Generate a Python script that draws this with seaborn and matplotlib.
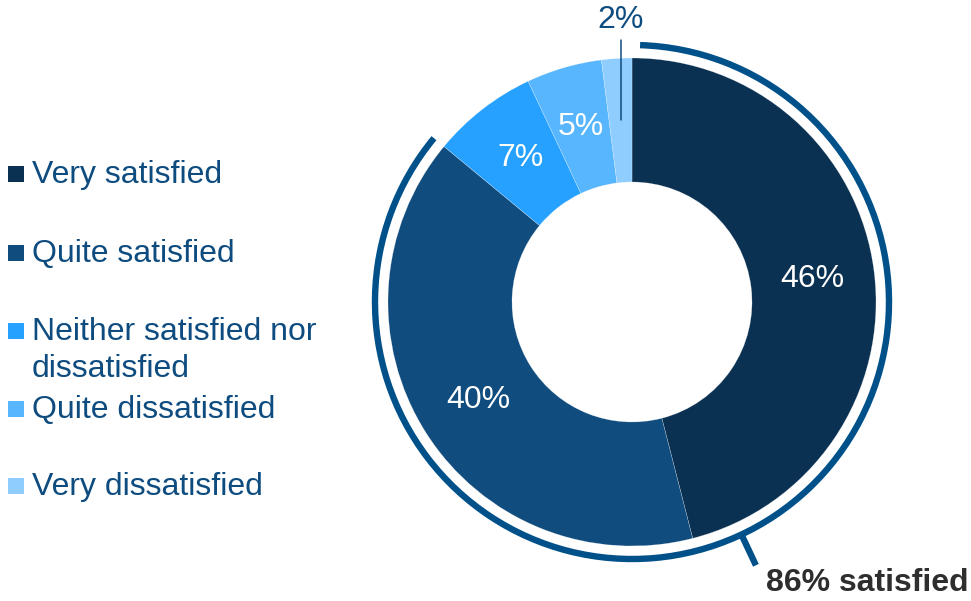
import matplotlib
matplotlib.use("Agg")
import matplotlib.pyplot as plt
from matplotlib.patches import Arc, Rectangle
import numpy as np
import seaborn as sns

# Survey results
categories = ["Very satisfied", "Quite satisfied", "Neither satisfied nor\ndissatisfied",
              "Quite dissatisfied", "Very dissatisfied"]
values = [46, 40, 7, 5, 2]
slice_colors = ["#0B3152", "#104C7D", "#26A1FF", "#58B6FF", "#8FCDFF"]
satisfied_idx = [0, 1]

TEXT_BLUE = "#0E4C80"
ARC_BLUE = "#00508A"

sns.set_theme(style="white")
plt.rcParams["font.family"] = ["Liberation Sans", "DejaVu Sans"]

W, H = 971, 601
fig = plt.figure(figsize=(W / 100, H / 100), dpi=100)
ax = fig.add_axes([0, 0, 1, 1])

# pixel layout: donut centre and outer radius
cx, cy, R = 632, 302, 244


def px(x, y):
    """pixel (from top-left) -> data coordinates (unit = donut radius)"""
    return (x - cx) / R, (cy - y) / R


inner = 120 / R
mid = (1 + inner) / 2

wedges, _ = ax.pie(values, colors=slice_colors, startangle=90, counterclock=False,
                   radius=1, wedgeprops=dict(width=1 - inner, edgecolor="#FFFFFF80", linewidth=0.3))

fs = 23
for w, v in zip(wedges, values):
    ang = np.deg2rad((w.theta1 + w.theta2) / 2)
    x, y = mid * np.cos(ang), mid * np.sin(ang)
    if v >= 5:
        ax.text(x, y, f"{v}%", ha="center", va="center", color="white", fontsize=fs)
    else:
        # small slice: label above the ring with a leader line
        top = px(0, 40)[1]
        ax.plot([x, x], [y, top], color=TEXT_BLUE, lw=1.1)
        ax.text(x, px(0, 20)[1], f"{v}%", ha="center", va="center", color=TEXT_BLUE, fontsize=fs)

# bracket arc around the satisfied slices
sat_total = sum(values[i] for i in satisfied_idx)
start = wedges[satisfied_idx[0]].theta2
end = wedges[satisfied_idx[-1]].theta1
r_arc = 257 / R
arc = Arc((0, 0), 2 * r_arc, 2 * r_arc, theta1=end, theta2=start - 1.8,
          color=ARC_BLUE, lw=4.6, capstyle="butt")
ax.add_patch(arc)
mid_ang = np.deg2rad(90 - 360 * sat_total / 100 / 2)
r_tick_out = 291 / R
ax.plot([r_arc * np.cos(mid_ang), r_tick_out * np.cos(mid_ang)],
        [r_arc * np.sin(mid_ang), r_tick_out * np.sin(mid_ang)],
        color=ARC_BLUE, lw=4.6, solid_capstyle="butt")
ax.text(*px(968, 583), f"{sat_total}% satisfied", ha="right", va="center",
        fontsize=fs, fontweight="bold", color="#2E2E2E")

# legend
baselines = [183, 262, 340, 418, 495]
for cat, col, base in zip(categories, slice_colors, baselines):
    mx, my = px(8, base - 1)
    ax.add_patch(Rectangle((mx, my), 16 / R, 16 / R, color=col, lw=0))
    for k, line in enumerate(cat.split("\n")):
        ax.text(*px(32, base + 37 * k), line, ha="left", va="baseline",
                fontsize=fs, color=TEXT_BLUE)

ax.set_aspect("auto")
ax.set_xlim(px(0, 0)[0], px(W, 0)[0])
ax.set_ylim(px(0, H)[1], px(0, 0)[1])
ax.axis("off")

fig.savefig("out.png", dpi=100, facecolor="white")
